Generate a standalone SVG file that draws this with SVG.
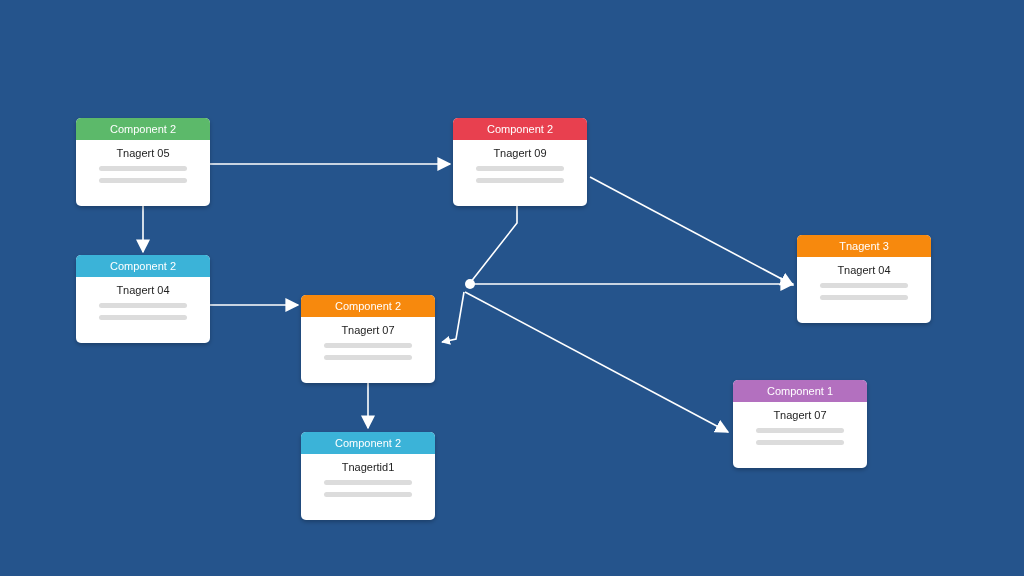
<svg xmlns="http://www.w3.org/2000/svg" width="1024" height="576" viewBox="0 0 1024 576">
<style>
.card{fill:#fff}
.ht{font-family:"Liberation Sans",Arial,sans-serif;font-size:11px;fill:#fff;text-anchor:middle}
.bt{font-family:"Liberation Sans",Arial,sans-serif;font-size:11px;fill:#222;text-anchor:middle}
.bar{fill:#dcdcdc}
.c{stroke:#fff;stroke-width:1.6;fill:none}
</style>
<defs>
<marker id="ah" viewBox="0 0 10 10" refX="9" refY="5" markerWidth="9" markerHeight="9" orient="auto" markerUnits="userSpaceOnUse"><path d="M0,0L10,5L0,10z" fill="#fff"/></marker>
<marker id="ah2" viewBox="0 0 10 10" refX="9" refY="5" markerWidth="14" markerHeight="14" orient="auto" markerUnits="userSpaceOnUse"><path d="M0,0L10,5L0,10z" fill="#fff"/></marker>
<filter id="sh"><feDropShadow dx="0" dy="2" stdDeviation="2" flood-opacity="0.25"/></filter>
</defs>
<rect width="1024" height="576" fill="#25548c"/>
<g id="connectors">
<path class="c" d="M210,164H450" marker-end="url(#ah2)"/>
<path class="c" d="M143,206V252" marker-end="url(#ah2)"/>
<path class="c" d="M210,305H298" marker-end="url(#ah2)"/>
<path class="c" d="M368,383V428" marker-end="url(#ah2)"/>
<path class="c" d="M517,206V223L470,283"/>
<path class="c" d="M470,284H793" marker-end="url(#ah2)"/>
<path class="c" d="M590,177L793,285" marker-end="url(#ah2)"/>
<path class="c" d="M465,292L728,432" marker-end="url(#ah2)"/>
<path class="c" d="M464,292L456,339L442,342" marker-end="url(#ah)"/>
<circle cx="470" cy="284" r="5" fill="#fff"/>
</g>
<g id="n1" filter="url(#sh)"><rect class="card" x="76" y="118" width="134" height="88" rx="5"/><path d="M76,140V123a5,5 0 0 1 5,-5H205a5,5 0 0 1 5,5V140z" fill="#5cb96a"/><text class="ht" x="143" y="133">Component 2</text><text class="bt" x="143" y="157">Tnagert 05</text><rect class="bar" x="99" y="166" width="88" height="5" rx="2.5"/><rect class="bar" x="99" y="178" width="88" height="5" rx="2.5"/></g>
<g id="n2" filter="url(#sh)"><rect class="card" x="76" y="255" width="134" height="88" rx="5"/><path d="M76,277V260a5,5 0 0 1 5,-5H205a5,5 0 0 1 5,5V277z" fill="#3bb3d8"/><text class="ht" x="143" y="270">Component 2</text><text class="bt" x="143" y="294">Tnagert 04</text><rect class="bar" x="99" y="303" width="88" height="5" rx="2.5"/><rect class="bar" x="99" y="315" width="88" height="5" rx="2.5"/></g>
<g id="n3" filter="url(#sh)"><rect class="card" x="301" y="295" width="134" height="88" rx="5"/><path d="M301,317V300a5,5 0 0 1 5,-5H430a5,5 0 0 1 5,5V317z" fill="#f7890f"/><text class="ht" x="368" y="310">Component 2</text><text class="bt" x="368" y="334">Tnagert 07</text><rect class="bar" x="324" y="343" width="88" height="5" rx="2.5"/><rect class="bar" x="324" y="355" width="88" height="5" rx="2.5"/></g>
<g id="n4" filter="url(#sh)"><rect class="card" x="301" y="432" width="134" height="88" rx="5"/><path d="M301,454V437a5,5 0 0 1 5,-5H430a5,5 0 0 1 5,5V454z" fill="#3bb3d8"/><text class="ht" x="368" y="447">Component 2</text><text class="bt" x="368" y="471">Tnagertid1</text><rect class="bar" x="324" y="480" width="88" height="5" rx="2.5"/><rect class="bar" x="324" y="492" width="88" height="5" rx="2.5"/></g>
<g id="n5" filter="url(#sh)"><rect class="card" x="453" y="118" width="134" height="88" rx="5"/><path d="M453,140V123a5,5 0 0 1 5,-5H582a5,5 0 0 1 5,5V140z" fill="#e8414f"/><text class="ht" x="520" y="133">Component 2</text><text class="bt" x="520" y="157">Tnagert 09</text><rect class="bar" x="476" y="166" width="88" height="5" rx="2.5"/><rect class="bar" x="476" y="178" width="88" height="5" rx="2.5"/></g>
<g id="n6" filter="url(#sh)"><rect class="card" x="797" y="235" width="134" height="88" rx="5"/><path d="M797,257V240a5,5 0 0 1 5,-5H926a5,5 0 0 1 5,5V257z" fill="#f7890f"/><text class="ht" x="864" y="250">Tnagent 3</text><text class="bt" x="864" y="274">Tnagert 04</text><rect class="bar" x="820" y="283" width="88" height="5" rx="2.5"/><rect class="bar" x="820" y="295" width="88" height="5" rx="2.5"/></g>
<g id="n7" filter="url(#sh)"><rect class="card" x="733" y="380" width="134" height="88" rx="5"/><path d="M733,402V385a5,5 0 0 1 5,-5H862a5,5 0 0 1 5,5V402z" fill="#b36fbf"/><text class="ht" x="800" y="395">Component 1</text><text class="bt" x="800" y="419">Tnagert 07</text><rect class="bar" x="756" y="428" width="88" height="5" rx="2.5"/><rect class="bar" x="756" y="440" width="88" height="5" rx="2.5"/></g>
</svg>
